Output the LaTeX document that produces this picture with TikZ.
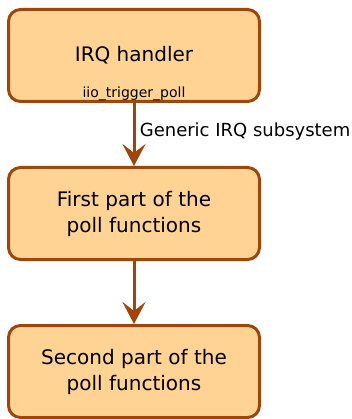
\documentclass[tikz,border=0pt]{standalone}
\usepackage{fontspec}
\setmainfont{DejaVu Sans}
\usepackage{tikz}
\usetikzlibrary{shapes,arrows.meta,positioning}
\definecolor{boxfill}{RGB}{255,211,148}
\definecolor{boxline}{RGB}{160,70,10}

\begin{document}
\begin{tikzpicture}[x=1pt, y=-1pt, node distance=158pt,
		stage/.style={draw=boxline, fill=boxfill, line width=3pt, rectangle, rounded corners=12pt,
			minimum width=251pt, minimum height=92pt, inner sep=0pt, align=center,
			font=\fontsize{20}{26}\selectfont},
		flow/.style={-{Stealth[length=22pt, width=23pt, inset=9pt]}, draw=boxline, line width=3pt}]
	\useasboundingbox (0,0) rectangle (351,419);
	\node[stage] (irq) at (134,55.5) {IRQ handler};
	\node[font=\fontsize{14}{16}\selectfont, anchor=south, inner sep=1pt] (poll) at ([yshift=1pt]irq.south) {iio\_trigger\_poll};
	\node[stage] (first) [below of=irq] {First part of the\\poll functions};
	\node[stage] (second) [below of=first] {Second part of the\\poll functions};
	\draw[flow] (irq) -- node[right, font=\fontsize{18}{20}\selectfont, xshift=1pt, yshift=3pt] (gen) {Generic IRQ subsystem} (first);
	\draw[flow] (first) -- (second);
\end{tikzpicture}
\end{document}
